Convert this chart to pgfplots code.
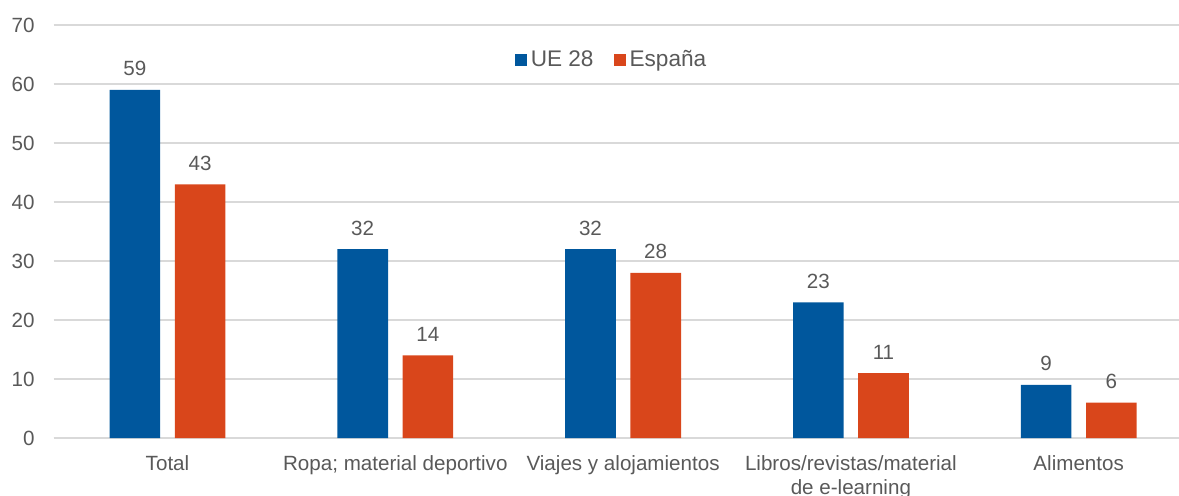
\documentclass[border=0pt]{standalone}
\usepackage{pgfplots}
\pgfplotsset{compat=1.18}
\usepackage{fontspec}
\setmainfont{Liberation Sans}
\definecolor{ueblue}{HTML}{00579D}
\definecolor{esorange}{HTML}{D9461B}
\definecolor{txtgrey}{HTML}{595959}
\definecolor{gridgrey}{HTML}{D9D9D9}
\begin{document}
\begin{tikzpicture}
\path[use as bounding box] (-26.8pt,-28.5pt) rectangle (562.7pt,219pt);
\begin{axis}[
  scale only axis,
  width=569.5pt, height=206.5pt,
  xmin=-0.5, xmax=4.5,
  ymin=0, ymax=70,
  ytick={0,10,...,70},
  xtick={0,1,2,3,4},
  xticklabels={Total,Ropa; material deportivo,Viajes y alojamientos,{Libros/revistas/material\\de e-learning},Alimentos},
  axis line style={draw=none},
  axis x line*=bottom,
  axis y line*=left,
  major tick length=0pt,
  ymajorgrids,
  grid style={gridgrey, line width=0.75pt},
  extra y ticks={0},
  extra y tick style={grid style={gridgrey,line width=0.75pt}},
  extra y tick labels={},
  tick label style={font=\fontsize{10.3}{12}\selectfont, text=txtgrey},
  /pgf/number format/assume math mode=true,
  yticklabel style={xshift=-6pt},
  xticklabel style={align=center, yshift=-5pt},
  ybar,
  bar width=25.3pt,
  nodes near coords,
  every node near coord/.append style={font=\fontsize{10.3}{12}\selectfont, text=txtgrey, yshift=3.4pt},
  legend style={
    at={(0.4907,0.915)}, anchor=center,
    draw=none, fill=none,
    legend columns=2,
    font=\fontsize{11.3}{13}\selectfont,
    text=txtgrey,
    /tikz/every even column/.append style={column sep=8pt},
  },
  legend image code/.code={\fill[#1] (0pt,-3pt) rectangle (6pt,3pt);},
  clip=false,
]
\addplot[fill=ueblue, draw=none, bar shift=-16.3pt] coordinates {(0,59) (1,32) (2,32) (3,23) (4,9)};
\addplot[fill=esorange, draw=none, bar shift=16.3pt] coordinates {(0,43) (1,14) (2,28) (3,11) (4,6)};
\legend{UE 28, España}
\end{axis}
\end{tikzpicture}
\end{document}
